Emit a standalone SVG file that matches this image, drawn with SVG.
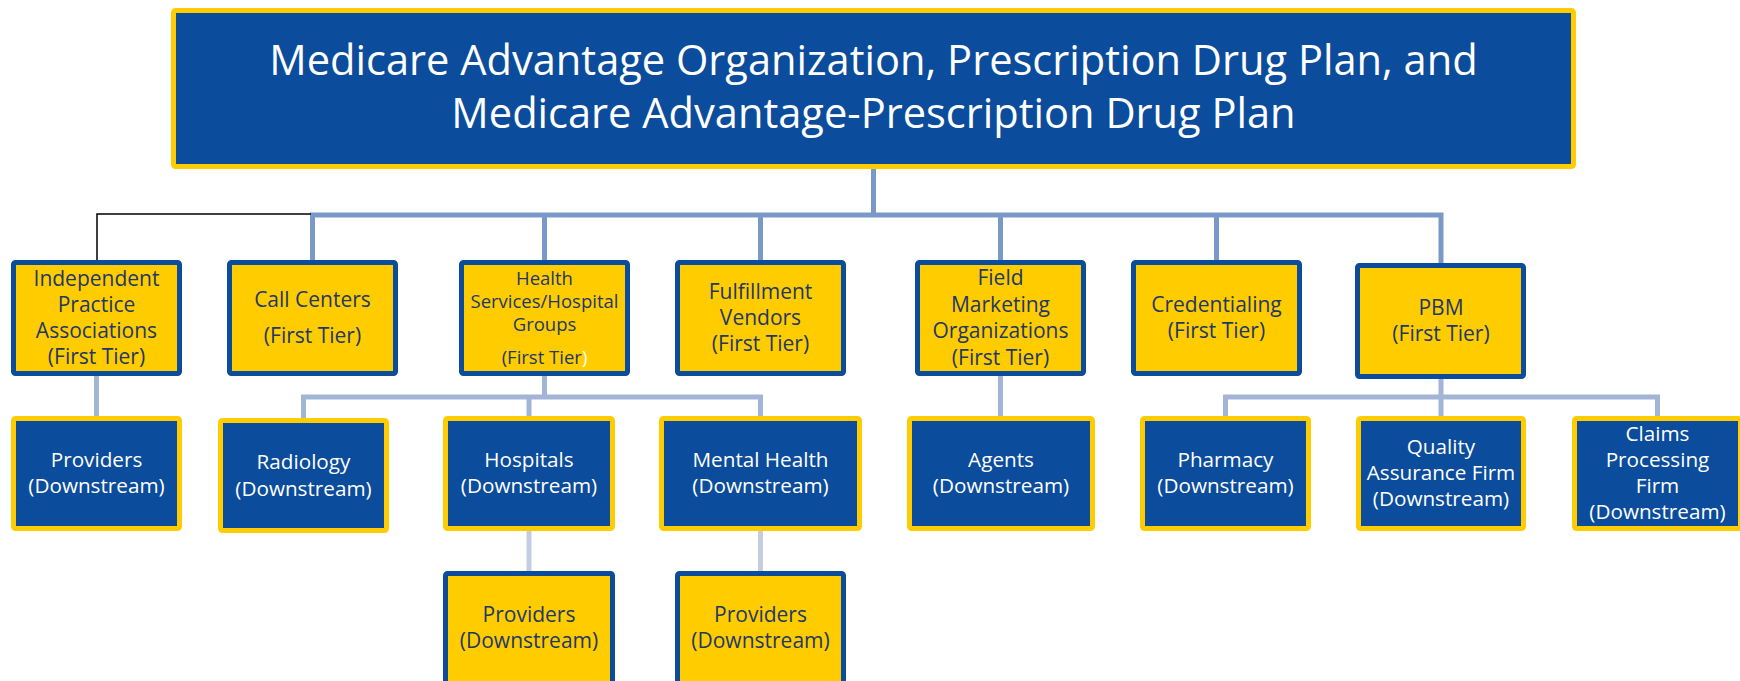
<svg xmlns="http://www.w3.org/2000/svg" width="1740" height="681" viewBox="0 0 1740 681">
<style>
  text { font-family: "Open Sans", "Noto Sans", "DejaVu Sans", sans-serif; text-anchor: middle; }
  .top rect { fill: #0B4C9C; stroke: #FFCC00; stroke-width: 5; }
  .title { fill: #FFFFFF; font-size: 41.6px; }
  .tier1 rect { fill: #FFCC00; stroke: #0B4C9C; stroke-width: 5; }
  .tier1 text { fill: #1F3864; font-size: 21px; }
  .tier1 text.small { font-size: 18.5px; }
  .down rect { fill: #0B4C9C; stroke: #FFCC00; stroke-width: 5; }
  .down text { fill: #FFFFFF; font-size: 20.7px; }
  .c1 { fill: none; stroke: #7A99C9; stroke-width: 5; }
  .c2 { fill: none; stroke: #A3B5D6; stroke-width: 5; }
  .c3 { fill: none; stroke: #C3CEE2; stroke-width: 5; }
  .cb { fill: none; stroke: #000000; stroke-width: 1.5; }
</style>
<rect width="1740" height="681" fill="#FFFFFF"/>
<g id="connectors">
  <path class="c1" d="M873.5 169 V215"/>
  <path class="c1" d="M312.5 260 V215 H1441 V263"/>
  <path class="c1" d="M544.5 215 V260 M760.5 215 V260 M1000.5 215 V260 M1216.5 215 V260"/>
  <path class="cb" d="M311 214 H97 V260"/>
  <path class="c2" d="M96.5 376 V416"/>
  <path class="c2" d="M544.5 376 V397"/>
  <path class="c2" d="M303.5 418 V397 H760.5 V416"/>
  <path class="c2" d="M529 397 V416"/>
  <path class="c2" d="M1000.5 376 V416"/>
  <path class="c2" d="M1441 379 V416"/>
  <path class="c2" d="M1225.5 416 V397 H1657.5 V416"/>
  <path class="c3" d="M529 531 V571 M760.5 531 V571"/>
</g>
<g id="mao" class="top">
  <rect x="173.5" y="10.5" width="1400" height="156" rx="2"/>
  <text class="title" x="873.5" y="75">Medicare Advantage Organization, Prescription Drug Plan, and</text>
  <text class="title" x="873.5" y="128">Medicare Advantage-Prescription Drug Plan</text>
</g>
<g id="ipa" class="tier1">
  <rect x="13.5" y="262.5" width="166" height="111" rx="2"/>
  <text x="96.5" y="286">Independent</text>
  <text x="96.5" y="312">Practice</text>
  <text x="96.5" y="338">Associations</text>
  <text x="96.5" y="364">(First Tier)</text>
</g>
<g id="call-centers" class="tier1">
  <rect x="229.5" y="262.5" width="166" height="111" rx="2"/>
  <text x="312.5" y="307">Call Centers</text>
  <text x="312.5" y="343">(First Tier)</text>
</g>
<g id="health-services" class="tier1">
  <rect x="461.5" y="262.5" width="166" height="111" rx="2"/>
  <text class="small" x="544.5" y="285">Health</text>
  <text class="small" x="544.5" y="308">Services/Hospital</text>
  <text class="small" x="544.5" y="331">Groups</text>
  <text class="small" x="544.5" y="364">(First Tier<tspan fill="#FFFFFF">)</tspan></text>
</g>
<g id="fulfillment" class="tier1">
  <rect x="677.5" y="262.5" width="166" height="111" rx="2"/>
  <text x="760.5" y="299">Fulfillment</text>
  <text x="760.5" y="325">Vendors</text>
  <text x="760.5" y="351">(First Tier)</text>
</g>
<g id="fmo" class="tier1">
  <rect x="917.5" y="262.5" width="166" height="111" rx="2"/>
  <text x="1000.5" y="285">Field</text>
  <text x="1000.5" y="312">Marketing</text>
  <text x="1000.5" y="338">Organizations</text>
  <text x="1000.5" y="365">(First Tier)</text>
</g>
<g id="credentialing" class="tier1">
  <rect x="1133.5" y="262.5" width="166" height="111" rx="2"/>
  <text x="1216.5" y="312">Credentialing</text>
  <text x="1216.5" y="338">(First Tier)</text>
</g>
<g id="pbm" class="tier1">
  <rect x="1357.5" y="265.5" width="166" height="111" rx="2"/>
  <text x="1441" y="315">PBM</text>
  <text x="1441" y="341">(First Tier)</text>
</g>
<g id="ipa-providers" class="down">
  <rect x="13.5" y="418.5" width="166" height="110" rx="2"/>
  <text x="96.5" y="467">Providers</text>
  <text x="96.5" y="493">(Downstream)</text>
</g>
<g id="radiology" class="down">
  <rect x="220.5" y="420.5" width="166" height="110" rx="2"/>
  <text x="303.5" y="469">Radiology</text>
  <text x="303.5" y="496">(Downstream)</text>
</g>
<g id="hospitals" class="down">
  <rect x="445.5" y="418.5" width="167" height="110" rx="2"/>
  <text x="529" y="467">Hospitals</text>
  <text x="529" y="493">(Downstream)</text>
</g>
<g id="mental-health" class="down">
  <rect x="661.5" y="418.5" width="198" height="110" rx="2"/>
  <text x="760.5" y="467">Mental Health</text>
  <text x="760.5" y="493">(Downstream)</text>
</g>
<g id="agents" class="down">
  <rect x="909.5" y="418.5" width="183" height="110" rx="2"/>
  <text x="1001" y="467">Agents</text>
  <text x="1001" y="493">(Downstream)</text>
</g>
<g id="pharmacy" class="down">
  <rect x="1142.5" y="418.5" width="166" height="110" rx="2"/>
  <text x="1225.5" y="467">Pharmacy</text>
  <text x="1225.5" y="493">(Downstream)</text>
</g>
<g id="quality-assurance" class="down">
  <rect x="1358.5" y="418.5" width="165" height="110" rx="2"/>
  <text x="1441" y="454">Quality</text>
  <text x="1441" y="480">Assurance Firm</text>
  <text x="1441" y="506">(Downstream)</text>
</g>
<g id="claims-processing" class="down">
  <rect x="1574.5" y="418.5" width="166" height="110" rx="2"/>
  <text x="1657.5" y="441">Claims</text>
  <text x="1657.5" y="467">Processing</text>
  <text x="1657.5" y="493">Firm</text>
  <text x="1657.5" y="519">(Downstream)</text>
</g>
<g id="hospital-providers" class="tier1">
  <rect x="445.5" y="573.5" width="167" height="130" rx="2"/>
  <text x="529" y="622">Providers</text>
  <text x="529" y="648">(Downstream)</text>
</g>
<g id="mental-health-providers" class="tier1">
  <rect x="677.5" y="573.5" width="166" height="130" rx="2"/>
  <text x="760.5" y="622">Providers</text>
  <text x="760.5" y="648">(Downstream)</text>
</g>
</svg>
